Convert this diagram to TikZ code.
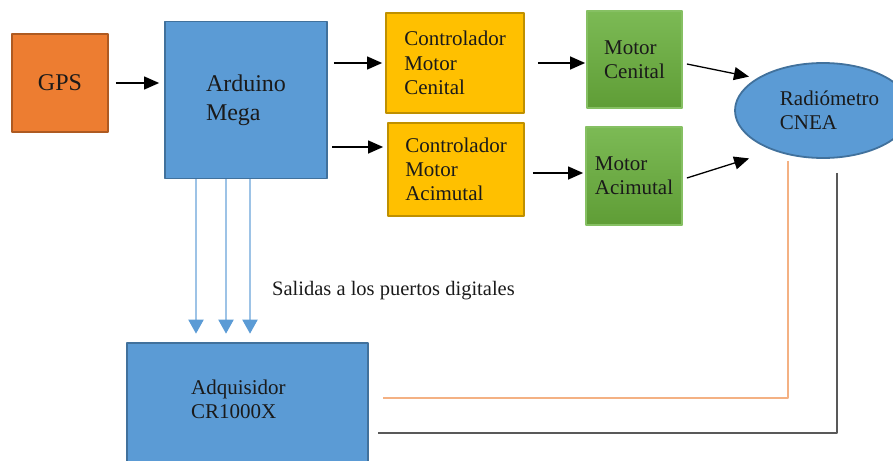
\documentclass[tikz,border=0pt]{standalone}
\usepackage{fontspec}
\setmainfont{Liberation Serif}
\usetikzlibrary{arrows.meta,shapes.geometric}
\definecolor{gpsf}{HTML}{ED7D31}
\definecolor{gpsd}{HTML}{AE5A21}
\definecolor{ardf}{HTML}{5B9BD5}
\definecolor{ardd}{HTML}{41719C}
\definecolor{ctlf}{HTML}{FFC000}
\definecolor{ctld}{HTML}{BF9000}
\definecolor{mott}{HTML}{7CBA55}
\definecolor{motb}{HTML}{5F9D36}
\definecolor{motd}{HTML}{86C063}
\definecolor{digl}{HTML}{9DC3E6}
\definecolor{fbo}{HTML}{F4B183}
\definecolor{fbd}{HTML}{595959}
\definecolor{txtc}{HTML}{1A1A1A}
\tikzset{
	blk/.style={draw,line width=1.8pt,inner sep=0pt,align=left,text=txtc,font=\fontsize{21}{24.3}\selectfont},
	txt/.style={inner sep=0pt,align=left,text=txtc,font=\fontsize{21}{24.5}\selectfont},
	arr/.style={line width=1.3pt,-{Triangle[length=15pt,width=13pt]}},
	dig/.style={line width=2pt,draw=digl,-{Triangle[length=14pt,width=15pt,color=ardf]}}
}
\begin{document}
\begin{tikzpicture}[x=1pt,y=-1pt,line join=round]
	\useasboundingbox (0,0) rectangle (893,460);
	\path (60,83)coordinate(G)
	(246,100)coordinate(Ar)
	(455,63)coordinate(CC)
	(456,169.5)coordinate(CA)
	(634.5,59.5)coordinate(MC)
	(634,176)coordinate(MA)
	(823,110.5)coordinate(R)
	(126,341.7)coordinate(Q);
	\node[blk,fill=gpsf,draw=gpsd,minimum width=96pt,minimum height=98pt,font=\fontsize{24}{29}\selectfont] (gps) at (G) {GPS};
	\node[blk,fill=ardf,draw=ardd,minimum width=162pt,minimum height=157pt,font=\fontsize{24}{29}\selectfont] (ard) at (Ar) {Arduino\\Mega};
	\node[blk,fill=ctlf,draw=ctld,minimum width=138pt,minimum height=100pt] (ctlc) at (CC) {Controlador\\Motor\\Cenital};
	\node[blk,fill=ctlf,draw=ctld,minimum width=136pt,minimum height=93pt] (ctla) at (CA) {Controlador\\Motor\\Acimutal};
	\node[blk,top color=mott,bottom color=motb,draw=motd,minimum width=95pt,minimum height=97pt] (motc) at (MC) {Motor\\Cenital};
	\node[blk,top color=mott,bottom color=motb,draw=motd,minimum width=96pt,minimum height=98pt] (mota) at (MA) {Motor\\Acimutal};
	\node[ellipse,draw=ardd,fill=ardf,line width=1.8pt,inner sep=0pt,minimum width=176pt,minimum height=95pt,
	label={[txt,xshift=6.5pt]center:{Radiómetro\\CNEA}}] (rad) at (R) {};
	\node[draw=ardd,fill=ardf,line width=1.8pt,anchor=north west,minimum width=241pt,minimum height=140pt,
	label={[txt,anchor=north west,xshift=65pt,yshift=-37.8pt]north west:{Adquisidor\\CR1000X}}] (adq) at (Q) {};
	\node[txt,font=\fontsize{20.5}{24}\selectfont,anchor=base west] (sal) at (272,295) {Salidas a los puertos digitales};
	% flechas
	\draw[arr] ([xshift=7pt]gps.east) -- ([xshift=-5pt]ard.west |- gps.east);
	\draw[arr,shorten <=6pt,shorten >=3pt] (ard.east |- ctlc.west) -- (ctlc.west);
	\draw[arr] ([shift={(-55pt,22.5pt)}]ctla.west) -- ([shift={(-4pt,22.5pt)}]ctla.west);
	\draw[arr] ([xshift=13pt]ctlc.east) -- ([xshift=-1pt]motc.west |- ctlc.east);
	\draw[arr] ([shift={(8pt,-3.5pt)}]ctla.east) -- ([shift={(-2pt,3pt)}]mota.west);
	\draw[arr,shorten >=8pt] ([shift={(4pt,-4.5pt)}]motc.east) -- (rad.154);
	\draw[arr] ([shift={(4pt,-2pt)}]mota.east) -- ([yshift=-21pt]rad.200);
	\foreach \dx in {-50,-20,4}\draw[dig,shorten >=8pt] ([xshift=\dx pt]ard.south) -- ([xshift=\dx pt]ard.south |- adq.north);
	% retorno al adquisidor
	\draw[fbo,line width=1.5pt] ([shift={(-35pt,-2pt)}]rad.south) |- ([shift={(14pt,14.7pt)}]adq.east);
	\draw[fbd,line width=1.5pt] ([shift={(14pt,-14pt)}]rad.south) |- ([shift={(9pt,-20.3pt)}]adq.east);
\end{tikzpicture}
\end{document}
